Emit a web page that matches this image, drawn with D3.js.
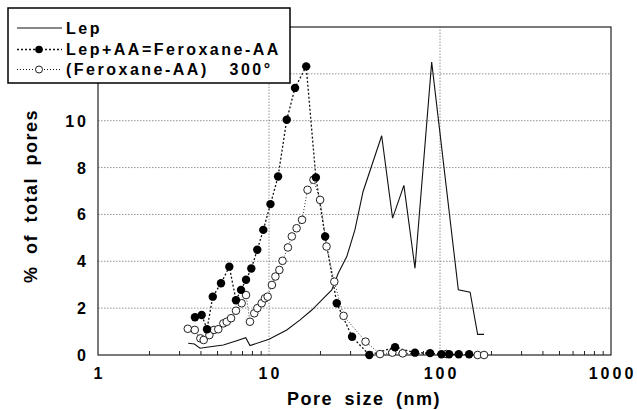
<!DOCTYPE html>
<html>
<head>
<meta charset="utf-8">
<script src="https://cdn.jsdelivr.net/npm/d3@7"></script>
<style>
  body { margin: 0; background: #fff; }
  text { font-family: "Liberation Sans", Arial, sans-serif; font-weight: bold; fill: #000; }
</style>
</head>
<body>
<svg id="chart"></svg>
<script>
// Lep (solid line)
const lepX = [3.37, 3.66, 3.95, 4.32, 5.41, 6.47, 7.31, 7.74, 10.0, 12.7, 15.2, 17.8, 20.8, 23.3, 25.4, 28.5, 31.8, 35.5, 45.6, 52.8, 61.5, 71.4, 89.4, 128, 150, 166, 181];
const lepY = [0.5, 0.47, 0.29, 0.33, 0.43, 0.61, 0.74, 0.40, 0.67, 1.07, 1.5, 1.92, 2.42, 2.78, 3.49, 4.2, 5.34, 6.98, 9.36, 5.84, 7.24, 3.70, 12.5, 2.78, 2.68, 0.88, 0.88];

// Lep+AA=Feroxane-AA (filled circles)
const feroX = [3.69, 4.04, 4.34, 4.69, 5.24, 5.86, 6.41, 6.86, 7.34, 7.88, 8.54, 9.26, 10.2, 11.3, 12.7, 14.2, 16.5, 18.8, 21.3, 24.9, 30.6, 38.6, 54.6, 71.4, 87.5, 102, 113, 128.6, 148];
const feroY = [1.61, 1.71, 1.10, 2.49, 3.06, 3.77, 2.34, 2.78, 3.21, 3.69, 4.49, 5.34, 6.44, 7.62, 10.04, 11.4, 12.32, 7.58, 5.06, 2.21, 0.78, 0.0, 0.33, 0.1, 0.08, 0.03, 0.03, 0.03, 0.03];

// (Feroxane-AA) 300° (open circles)
const heatX = [3.35, 3.68, 3.97, 4.15, 4.48, 4.77, 5.05, 5.41, 5.66, 6.0, 6.41, 6.92, 7.34, 7.74, 8.2, 8.55, 9.06, 9.47, 9.82, 10.4, 10.9, 11.5, 12.0, 12.9, 13.6, 14.5, 15.6, 16.8, 18.2, 19.9, 21.7, 24.1, 27.3, 36.7, 44.6, 52.6, 60.5, 109, 166, 181];
const heatY = [1.12, 1.07, 0.71, 0.64, 0.85, 1.07, 1.10, 1.35, 1.42, 1.57, 1.89, 2.21, 2.56, 1.42, 1.78, 2.0, 2.21, 2.42, 2.49, 2.99, 3.35, 3.63, 4.02, 4.59, 5.06, 5.41, 5.77, 7.05, 7.48, 6.62, 4.63, 3.13, 1.67, 0.57, 0.04, 0.1, 0.07, 0.04, 0.0, 0.0];

const xTicks = [1, 10, 100, 1000];
const yGrid = [2, 4, 6, 8, 10, 12];
const yTicks = [0, 2, 4, 6, 8, 10]; // 12 is hidden behind the legend
const legendLabels = ['Lep', 'Lep+AA=Feroxane-AA', '(Feroxane-AA)   300°'];

const width = 637, height = 410;
const svg = d3.select('#chart').attr('width', width).attr('height', height);

const x = d3.scaleLog().domain([1, 1000]).range([98, 611]);
const y = d3.scaleLinear().domain([0, 14]).range([355, 27]);

// grid lines
svg.append('g').selectAll('line')
  .data(yGrid)
  .enter().append('line')
  .attr('x1', x(1)).attr('x2', x(1000))
  .attr('y1', d => y(d)).attr('y2', d => y(d))
  .attr('stroke', '#777').attr('stroke-width', 0.8)
  .attr('stroke-dasharray', '1.5 1.5');

svg.append('g').selectAll('line')
  .data([10, 100])
  .enter().append('line')
  .attr('x1', d => x(d)).attr('x2', d => x(d))
  .attr('y1', y(0)).attr('y2', y(14))
  .attr('stroke', '#777').attr('stroke-width', 0.8)
  .attr('stroke-dasharray', '1.5 1.5');

// frame
svg.append('rect')
  .attr('x', x(1)).attr('y', y(14))
  .attr('width', x(1000) - x(1)).attr('height', y(0) - y(14))
  .attr('fill', 'none').attr('stroke', '#222').attr('stroke-width', 1.2);

// x axis minor ticks
const minor = [];
[1, 10, 100].forEach(dec => { for (let k = 2; k <= 9; k++) minor.push(dec * k); });
svg.append('g').selectAll('line')
  .data(minor)
  .enter().append('line')
  .attr('x1', d => x(d)).attr('x2', d => x(d))
  .attr('y1', y(0)).attr('y2', y(0) - 4)
  .attr('stroke', '#222').attr('stroke-width', 1);

// tick labels
svg.append('g').selectAll('text')
  .data(xTicks)
  .enter().append('text')
  .attr('x', d => x(d))
  .attr('dx', 1.5)
  .attr('y', 379)
  .attr('text-anchor', 'middle')
  .attr('font-size', '16px')
  .attr('letter-spacing', '3px')
  .text(d => d);

svg.append('g').selectAll('text')
  .data(yTicks)
  .enter().append('text')
  .attr('x', 89)
  .attr('y', d => y(d) + 6)
  .attr('text-anchor', 'end')
  .attr('font-size', '16px')
  .attr('letter-spacing', '3px')
  .text(d => d);

// axis titles
svg.append('text')
  .attr('x', 364).attr('y', 405)
  .attr('text-anchor', 'middle')
  .attr('font-size', '18px')
  .attr('letter-spacing', '1.5px')
  .attr('word-spacing', '5px')
  .text('Pore size (nm)');

svg.append('text')
  .attr('transform', 'translate(37,' + 196 + ') rotate(-90)')
  .attr('text-anchor', 'middle')
  .attr('font-size', '18px')
  .attr('letter-spacing', '1.5px')
  .attr('word-spacing', '5px')
  .text('% of total pores');

// series
const lepData = lepX.map((v, i) => [v, lepY[i]]);
const feroData = feroX.map((v, i) => [v, feroY[i]]);
const heatData = heatX.map((v, i) => [v, heatY[i]]);
const line = d3.line().x(d => x(d[0])).y(d => y(d[1]));

svg.append('path').datum(lepData)
  .attr('fill', 'none').attr('stroke', '#111').attr('stroke-width', 1.1)
  .attr('d', line);

svg.append('path').datum(heatData)
  .attr('fill', 'none').attr('stroke', '#333').attr('stroke-width', 1)
  .attr('stroke-dasharray', '1 2')
  .attr('d', line);

svg.append('path').datum(feroData)
  .attr('fill', 'none').attr('stroke', '#111').attr('stroke-width', 1.3)
  .attr('stroke-dasharray', '2 2')
  .attr('d', line);

svg.append('g').selectAll('circle')
  .data(heatData)
  .enter().append('circle')
  .attr('cx', d => x(d[0])).attr('cy', d => y(d[1]))
  .attr('r', 3.8)
  .attr('fill', '#fff').attr('stroke', '#222').attr('stroke-width', 1);

svg.append('g').selectAll('circle')
  .data(feroData)
  .enter().append('circle')
  .attr('cx', d => x(d[0])).attr('cy', d => y(d[1]))
  .attr('r', 4.2)
  .attr('fill', '#000');

// legend
const lg = svg.append('g');
lg.append('rect')
  .attr('x', 8).attr('y', 8).attr('width', 282).attr('height', 75)
  .attr('fill', '#fff').attr('stroke', '#000').attr('stroke-width', 1.5);

const rowY = [28, 49.5, 69.5];
legendLabels.forEach((label, i) => {
  const g = lg.append('g').attr('transform', 'translate(0,' + rowY[i] + ')');
  const ln = g.append('line').attr('x1', 17).attr('x2', 62).attr('y1', 0).attr('y2', 0)
    .attr('stroke', '#111');
  if (i === 0) ln.attr('stroke-width', 1);
  if (i === 1) ln.attr('stroke-width', 1.3).attr('stroke-dasharray', '2 2');
  if (i === 2) ln.attr('stroke-width', 1).attr('stroke-dasharray', '1 2');
  if (i === 1) g.append('circle').attr('cx', 39).attr('cy', 0).attr('r', 3.8).attr('fill', '#000');
  if (i === 2) g.append('circle').attr('cx', 39).attr('cy', 0).attr('r', 3.5)
    .attr('fill', '#fff').attr('stroke', '#222');
  g.append('text')
    .attr('x', 66).attr('y', 5.5)
    .attr('font-size', '16px')
    .attr('letter-spacing', '2.5px')
    .style('white-space', 'pre')
    .text(label);
});
</script>
</body>
</html>
